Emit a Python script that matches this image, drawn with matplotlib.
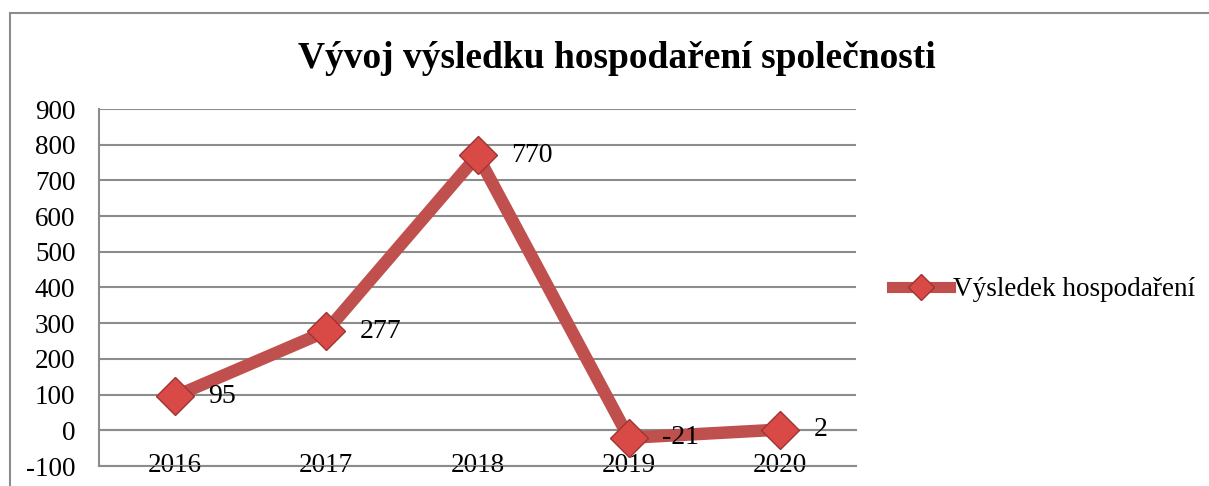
import matplotlib.pyplot as plt
from matplotlib.lines import Line2D
from matplotlib.patches import Rectangle

# data
roky = ['2016', '2017', '2018', '2019', '2020']
vysledek = [95, 277, 770, -21, 2]
y_ticks = [-100, 0, 100, 200, 300, 400, 500, 600, 700, 800, 900]

plt.rcParams['font.family'] = ['Liberation Serif', 'DejaVu Serif']
plt.rcParams['axes.unicode_minus'] = False

barva_cary = '#C0504D'
barva_znacky = '#D94A46'
barva_okraje = '#9E3431'
seda = '#8C8C8C'
velikost = 19.5

fig = plt.figure(figsize=(12.09, 4.86), dpi=100)
ax = fig.add_axes([99 / 1209, 20 / 486, 757 / 1209, 357 / 486])

x = list(range(len(roky)))
ax.plot(x, vysledek, color=barva_cary, lw=9, solid_capstyle='butt', zorder=3)
ax.plot(x, vysledek, linestyle='none', marker='D', ms=19,
        markerfacecolor=barva_znacky, markeredgecolor=barva_okraje,
        markeredgewidth=1, zorder=4)

for xi, v in zip(x, vysledek):
    ax.annotate(str(v), (xi, v), xytext=(24, 0), textcoords='offset points',
                ha='left', va='center', fontsize=20, zorder=5)

ax.set_xlim(-0.5, len(roky) - 0.5)
ax.set_ylim(-100, 900)
ax.set_yticks(y_ticks)
ax.set_xticks(x)
ax.set_xticklabels(roky)
ax.tick_params(axis='both', length=0, labelsize=velikost)
ax.tick_params(axis='y', pad=17)
ax.tick_params(axis='x', pad=16)
ax.yaxis.grid(True, color=seda, lw=1.5)
ax.axhline(-100, color=seda, lw=1.5, clip_on=False, zorder=0)
ax.set_axisbelow(True)

ax.spines['top'].set_visible(False)
ax.spines['right'].set_visible(False)
ax.spines['left'].set_color(seda)
ax.spines['left'].set_linewidth(1.5)
ax.spines['bottom'].set_position(('data', 0))
ax.spines['bottom'].set_color(seda)
ax.spines['bottom'].set_linewidth(1.5)

fig.text(617 / 1209, 1 - 58 / 486, 'Vývoj výsledku hospodaření společnosti',
         ha='center', va='center', fontsize=27, fontweight='bold')

# legenda
handle = Line2D([], [], color=barva_cary, lw=8, marker='D', ms=13,
                markerfacecolor=barva_znacky, markeredgecolor=barva_okraje)
fig.legend([handle], ['Výsledek hospodaření'], loc='center left',
           bbox_to_anchor=(892 / 1209, 1 - 290 / 486), frameon=False,
           fontsize=velikost, handlelength=2.15, handletextpad=0.1,
           borderpad=0, borderaxespad=0)

# ramecek grafu
fig.patches.append(Rectangle((10 / 1209, -0.2), 1.2, 1.2 - 13 / 486,
                             transform=fig.transFigure, fill=False,
                             edgecolor=seda, lw=1.5))

fig.savefig('out.png', dpi=100)
